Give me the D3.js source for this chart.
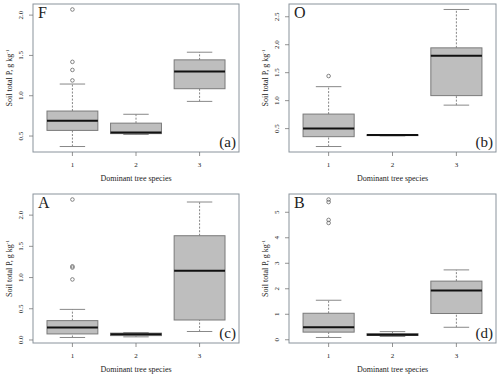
<!DOCTYPE html>
<html>
<head>
<meta charset="utf-8">
<script src="https://cdn.jsdelivr.net/npm/d3@7"></script>
<style>
  body { margin: 0; background: #fff; }
  text { font-family: "Liberation Serif", "DejaVu Serif", serif; fill: #222; }
</style>
</head>
<body>
<div id="chart"></div>
<script>
// box stats per group: [lower whisker, Q1, median, Q3, upper whisker]
const groups = ["1", "2", "3"];

const statsF = [[0.37, 0.57, 0.69, 0.81, 1.145], [0.52, 0.53, 0.545, 0.66, 0.77], [0.93, 1.087, 1.30, 1.445, 1.54]];
const outF = [[1.19, 1.32, 1.42, 2.07], [], []];

const statsO = [[0.18, 0.356, 0.50, 0.76, 1.25], [0.37, 0.375, 0.385, 0.39, 0.392], [0.92, 1.09, 1.805, 1.944, 2.63]];
const outO = [[1.44], [], []];

const statsA = [[0.04, 0.097, 0.20, 0.31, 0.49], [0.05, 0.07, 0.09, 0.11, 0.12], [0.136, 0.32, 1.11, 1.67, 2.21]];
const outA = [[0.97, 1.16, 1.18, 2.25], [], []];

const statsB = [[0.09, 0.30, 0.49, 1.04, 1.55], [0.13, 0.17, 0.20, 0.24, 0.32], [0.49, 1.03, 1.93, 2.30, 2.74]];
const outB = [[4.58, 4.70, 5.40, 5.50], [], []];

const yTicksF = [0.5, 1.0, 1.5, 2.0];
const yTicksO = [0.5, 1.0, 1.5, 2.0, 2.5];
const yTicksA = [0.0, 0.5, 1.0, 1.5, 2.0];
const yTicksB = [0, 1, 2, 3, 4, 5];

const W = 500, H = 378;

const svg = d3.select('#chart').append('svg')
  .attr('width', W)
  .attr('height', H);

function panel(opts) {
  const { left, right, top, bottom, stats, outs, ticks, fmt, letter, tag } = opts;
  const g = svg.append('g');

  // R style range: data range widened by 4% each side
  const all = stats.flat().concat(outs.flat());
  const lo = d3.min(all), hi = d3.max(all);
  const pad = (hi - lo) * 0.04;
  const y = d3.scaleLinear().domain([lo - pad, hi + pad]).range([bottom, top]);
  const x = d3.scaleLinear().domain([0.38, 3.62]).range([left, right]);
  const bw = (x(1.4) - x(1)) ; // half of boxwex 0.8
  const cap = bw / 2;

  // boxes
  stats.forEach((s, i) => {
    const cx = x(i + 1);
    const [wl, q1, med, q3, wh] = s;
    g.append('line')
      .attr('x1', cx).attr('x2', cx).attr('y1', y(wl)).attr('y2', y(q1))
      .attr('stroke', '#777').attr('stroke-dasharray', '2,1.5').attr('stroke-width', 0.9);
    g.append('line')
      .attr('x1', cx).attr('x2', cx).attr('y1', y(q3)).attr('y2', y(wh))
      .attr('stroke', '#777').attr('stroke-dasharray', '2,1.5').attr('stroke-width', 0.9);
    [wl, wh].forEach(v => {
      g.append('line')
        .attr('x1', cx - cap).attr('x2', cx + cap).attr('y1', y(v)).attr('y2', y(v))
        .attr('stroke', '#888').attr('stroke-width', 1);
    });
    g.append('rect')
      .attr('x', cx - bw).attr('y', y(q3))
      .attr('width', bw * 2).attr('height', Math.max(y(q1) - y(q3), 0.5))
      .attr('fill', '#bebebe').attr('stroke', '#7a7a7a').attr('stroke-width', 1);
    g.append('line')
      .attr('x1', cx - bw).attr('x2', cx + bw).attr('y1', y(med)).attr('y2', y(med))
      .attr('stroke', '#111').attr('stroke-width', 2);
    outs[i].forEach(v => {
      g.append('circle')
        .attr('cx', cx).attr('cy', y(v)).attr('r', 1.8)
        .attr('fill', 'none').attr('stroke', '#666').attr('stroke-width', 0.8);
    });
  });

  // frame
  g.append('rect')
    .attr('x', left).attr('y', top)
    .attr('width', right - left).attr('height', bottom - top)
    .attr('fill', 'none').attr('stroke', '#8a939c').attr('stroke-width', 1);

  // y axis
  const yAxis = g.append('g');
  ticks.forEach(t => {
    yAxis.append('line')
      .attr('x1', left - 4).attr('x2', left).attr('y1', y(t)).attr('y2', y(t))
      .attr('stroke', '#777').attr('stroke-width', 0.8);
    yAxis.append('text')
      .attr('transform', 'translate(' + (left - 10) + ',' + y(t) + ') rotate(-90)')
      .attr('text-anchor', 'middle')
      .attr('font-size', 7)
      .text(fmt(t));
  });

  // x axis
  groups.forEach((gname, i) => {
    g.append('line')
      .attr('x1', x(i + 1)).attr('x2', x(i + 1)).attr('y1', bottom).attr('y2', bottom + 4)
      .attr('stroke', '#777').attr('stroke-width', 0.8);
    g.append('text')
      .attr('x', x(i + 1)).attr('y', bottom + 15)
      .attr('text-anchor', 'middle').attr('font-size', 7)
      .text(gname);
  });

  g.append('text')
    .attr('x', (left + right) / 2).attr('y', bottom + 29)
    .attr('text-anchor', 'middle').attr('font-size', 8)
    .text('Dominant tree species');

  const yt = g.append('text')
    .attr('transform', 'translate(' + (left - 21) + ',' + ((top + bottom) / 2) + ') rotate(-90)')
    .attr('text-anchor', 'middle').attr('font-size', 8);
  yt.append('tspan').text('Soil total P, g kg');
  yt.append('tspan').attr('font-size', 5).attr('dy', -3).text('-1');

  g.append('text')
    .attr('x', left + 5).attr('y', top + 14)
    .attr('font-size', 16)
    .text(letter);

  g.append('text')
    .attr('x', right - 3).attr('y', bottom - 5)
    .attr('text-anchor', 'end').attr('font-size', 15)
    .text(tag);
}

const f1 = d3.format('.1f');
const f0 = d3.format('d');

panel({ left: 33, right: 239, top: 4, bottom: 152, stats: statsF, outs: outF, ticks: yTicksF, fmt: f1, letter: 'F', tag: '(a)' });
panel({ left: 289, right: 496, top: 4, bottom: 152, stats: statsO, outs: outO, ticks: yTicksO, fmt: f1, letter: 'O', tag: '(b)' });
panel({ left: 33, right: 239, top: 194, bottom: 343, stats: statsA, outs: outA, ticks: yTicksA, fmt: f1, letter: 'A', tag: '(c)' });
panel({ left: 289, right: 496, top: 194, bottom: 343, stats: statsB, outs: outB, ticks: yTicksB, fmt: f0, letter: 'B', tag: '(d)' });
</script>
</body>
</html>
